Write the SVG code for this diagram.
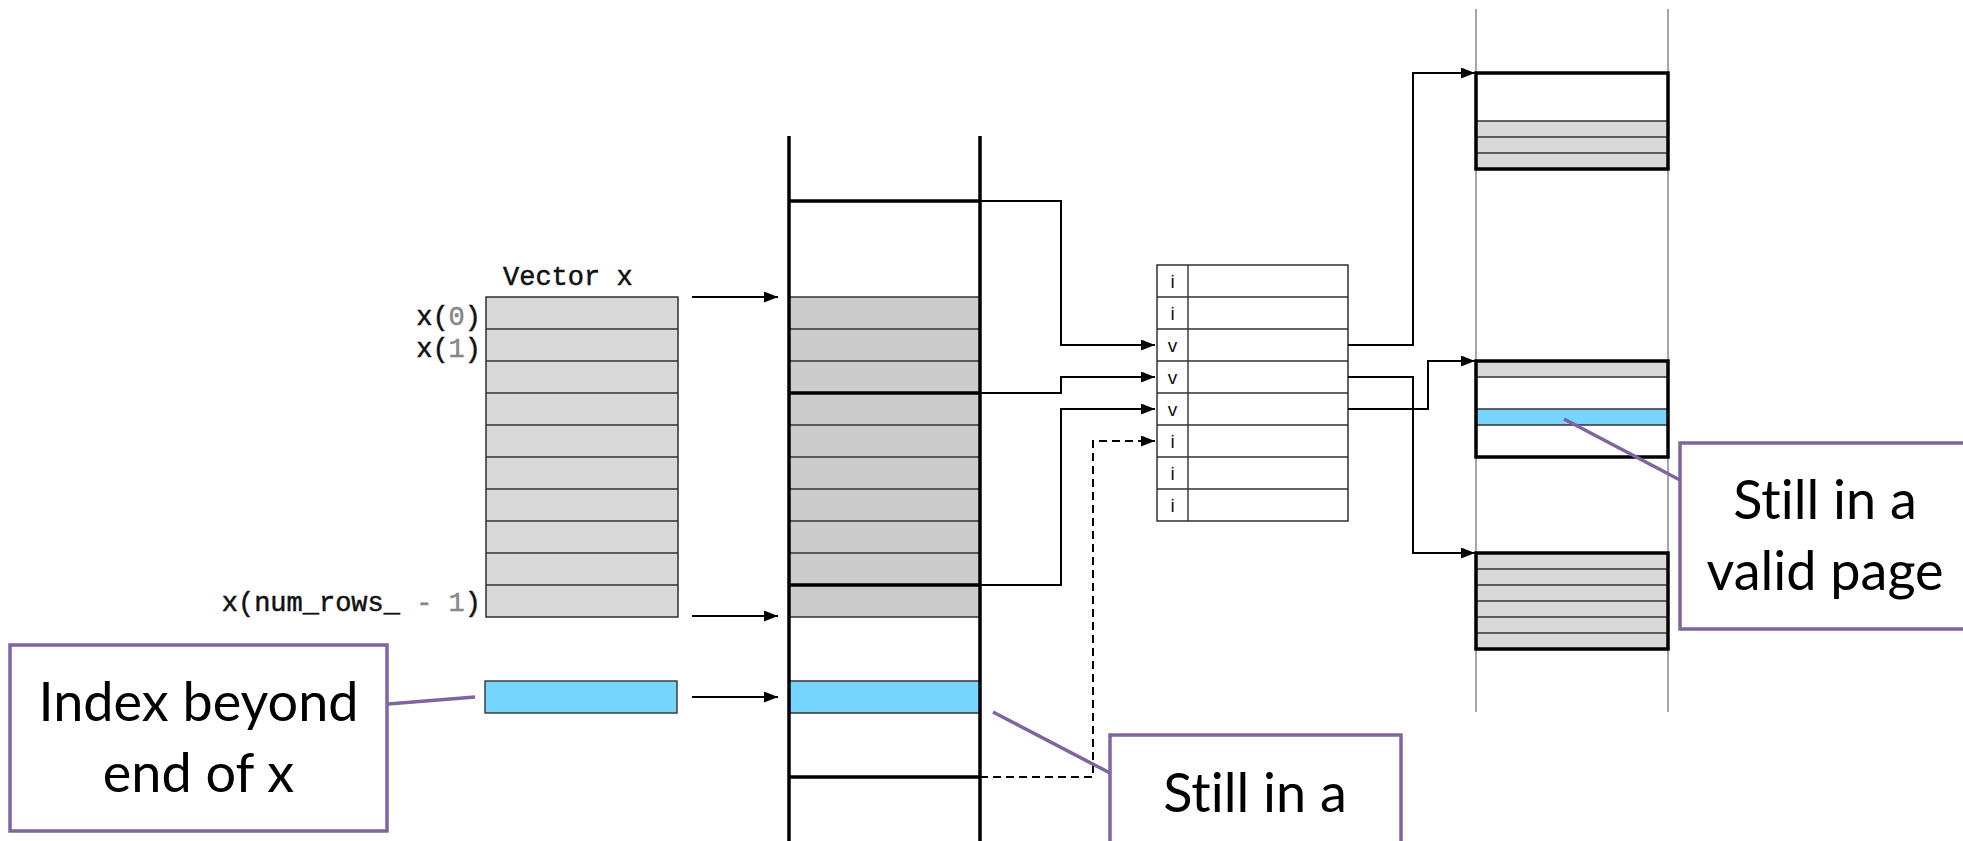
<svg xmlns="http://www.w3.org/2000/svg" width="1963" height="841" viewBox="0 0 1963 841">
<defs>
<marker id="ah" markerUnits="userSpaceOnUse" markerWidth="15" markerHeight="12" refX="14" refY="5.5" orient="auto">
<path d="M0,0 L14,5.5 L0,11 z" fill="#000"/>
</marker>
<style>
.mono{font-family:"Liberation Mono","DejaVu Sans Mono",monospace;font-size:27px;fill:#111;stroke:#111;stroke-width:0.5}
.gr{fill:#888;stroke:#888}
.cell{font-family:"Liberation Sans",Arial,sans-serif;font-size:19px;fill:#111;text-anchor:middle}
.call{font-family:Lato,"Open Sans",sans-serif;font-size:54px;fill:#000;text-anchor:middle;font-variant-ligatures:none;font-feature-settings:"liga" 0}
.cbox{fill:#fff;stroke:#8064a2;stroke-width:3.5}
.cline{stroke:#8064a2;stroke-width:3.5;fill:none}
.thin{stroke:#333;stroke-width:1.4;fill:none}
.thick{stroke:#000;stroke-width:3.5;fill:none}
.conn{stroke:#000;stroke-width:2;fill:none}
.dash{stroke:#000;stroke-width:2;fill:none;stroke-dasharray:8,5}
.col2{stroke:#777;stroke-width:1.3;fill:none}
</style>
</defs>

<g id="vector-x">
<text class="mono" x="503" y="285">Vector x</text>
<rect x="486" y="297" width="192" height="320" fill="#d9d9d9" stroke="#222" stroke-width="1.4"/>
<path class="thin" d="M486,329H678M486,361H678M486,393H678M486,425H678M486,457H678M486,489H678M486,521H678M486,553H678M486,585H678"/>
<text class="mono" x="481" y="325" text-anchor="end">x(<tspan class="gr">0</tspan>)</text>
<text class="mono" x="481" y="357" text-anchor="end">x(<tspan class="gr">1</tspan>)</text>
<text class="mono" x="481" y="611" text-anchor="end">x(num_rows_ <tspan class="gr">- 1</tspan>)</text>
</g>

<g id="beyond-element">
<rect x="485" y="681" width="192" height="32" fill="#75d5fd" stroke="#333" stroke-width="1.4"/>
</g>

<g id="memory">
<rect x="789" y="297" width="191" height="320" fill="#cccccc"/>
<rect x="789" y="681" width="191" height="32" fill="#75d5fd"/>
<path class="thin" d="M789,297H980M789,329H980M789,361H980M789,425H980M789,457H980M789,489H980M789,521H980M789,553H980M789,617H980M789,681H980M789,713H980"/>
<path class="thick" d="M789,201H980M789,393H980M789,585H980M789,777H980"/>
<path class="thick" d="M789,136V841M980,136V841"/>
</g>

<g id="page-table">
<rect x="1157" y="265" width="191" height="256" fill="#fff" stroke="#222" stroke-width="1.4"/>
<path class="thin" d="M1188,265V521M1157,297H1348M1157,329H1348M1157,361H1348M1157,393H1348M1157,425H1348M1157,457H1348M1157,489H1348"/>
<text class="cell" x="1172.5" y="288">i</text>
<text class="cell" x="1172.5" y="320">i</text>
<text class="cell" x="1172.5" y="352">v</text>
<text class="cell" x="1172.5" y="384">v</text>
<text class="cell" x="1172.5" y="416">v</text>
<text class="cell" x="1172.5" y="448">i</text>
<text class="cell" x="1172.5" y="480">i</text>
<text class="cell" x="1172.5" y="512">i</text>
</g>

<g id="physical-memory">
<path class="col2" d="M1476,9V712M1668,9V712"/>
</g>

<g id="page-1">
<rect x="1476" y="121" width="192" height="48" fill="#d9d9d9"/>
<path class="thin" d="M1476,121H1668M1476,137H1668M1476,153H1668"/>
<rect x="1476" y="73" width="192" height="96" class="thick"/>
</g>

<g id="page-2">
<rect x="1476" y="361" width="192" height="16" fill="#d9d9d9"/>
<rect x="1476" y="409" width="192" height="16" fill="#75d5fd"/>
<path class="thin" d="M1476,377H1668M1476,409H1668M1476,425H1668"/>
<rect x="1476" y="361" width="192" height="96" class="thick"/>
</g>

<g id="page-3">
<rect x="1476" y="553" width="192" height="96" fill="#d9d9d9"/>
<path class="thin" d="M1476,569H1668M1476,585H1668M1476,601H1668M1476,617H1668M1476,633H1668"/>
<rect x="1476" y="553" width="192" height="96" class="thick"/>
</g>

<g id="connectors">
<path class="conn" marker-end="url(#ah)" d="M692,297H778"/>
<path class="conn" marker-end="url(#ah)" d="M692,616H778"/>
<path class="conn" marker-end="url(#ah)" d="M692,697H778"/>
<path class="conn" marker-end="url(#ah)" d="M980,201H1061V345H1155"/>
<path class="conn" marker-end="url(#ah)" d="M980,393H1061V377H1155"/>
<path class="conn" marker-end="url(#ah)" d="M980,585H1061V409H1155"/>
<path class="dash" marker-end="url(#ah)" d="M980,777H1093V441H1155"/>
<path class="conn" marker-end="url(#ah)" d="M1348,345H1413V73H1475"/>
<path class="conn" marker-end="url(#ah)" d="M1348,377H1413V553H1475"/>
<path class="conn" marker-end="url(#ah)" d="M1348,409H1428V361H1475"/>
</g>

<g id="callout-index-beyond">
<path class="cline" d="M388,704L475,697"/>
<rect class="cbox" x="10" y="645" width="377" height="186"/>
<text class="call" x="198.5" y="721">Index beyond</text>
<text class="call" x="198.5" y="792">end of x</text>
</g>

<g id="callout-valid-page">
<path class="cline" d="M1564,419L1680,480"/>
<rect class="cbox" x="1680" y="443" width="292" height="186"/>
<text class="call" x="1825" y="519">Still in a</text>
<text class="call" x="1825" y="590">valid page</text>
</g>

<g id="callout-still">
<path class="cline" d="M993,712L1110,773"/>
<rect class="cbox" x="1110" y="735" width="291" height="130"/>
<text class="call" x="1255" y="812">Still in a</text>
</g>
</svg>
